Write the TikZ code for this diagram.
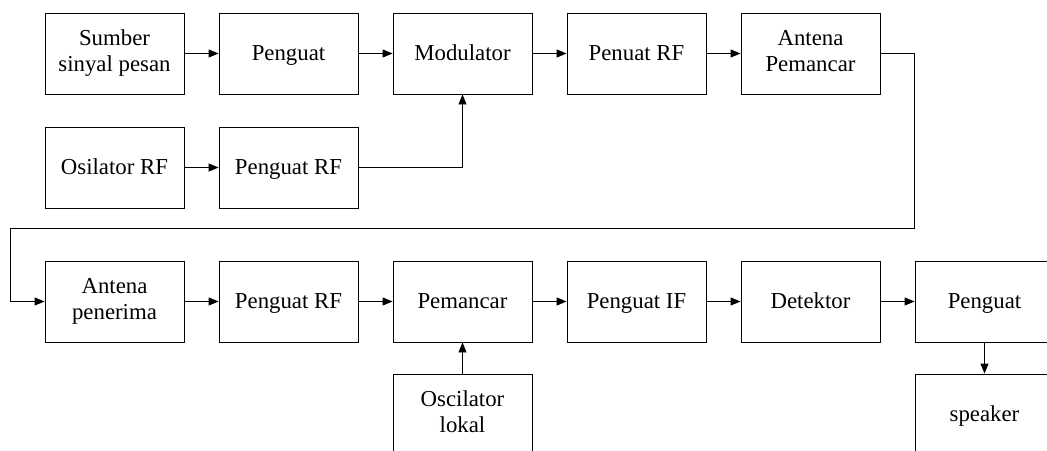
\documentclass[tikz,border=0pt]{standalone}
\usepackage{fontspec}
\setmainfont{Liberation Serif}
\usetikzlibrary{arrows.meta, calc}

\newcommand{\blkstrut}{\rule[-5.8pt]{0pt}{26pt}}

\tikzset{
    block/.style={draw, line width=0.9pt, minimum width=139pt, minimum height=81pt,
        align=center, inner sep=2pt, font=\fontsize{22.8}{26}\selectfont,
        execute at begin node=\blkstrut, execute at end node=\blkstrut},
    arr/.style={line width=0.9pt, -{Triangle[length=10pt, width=8pt]}},
    link/.style={line width=0.9pt}
}

\begin{document}
\begin{tikzpicture}[x=1pt, y=-1pt]
    \useasboundingbox (0,0) rectangle (1047,450);
    \clip (0,0) rectangle (1047,450);

    % pemancar
    \node[block] (src)   at (114.5,53.5) {Sumber\\sinyal pesan};
    \node[block] (amp1)  at (288.5,53.5) {Penguat};
    \node[block] (mod)   at (462.5,53.5) {Modulator};
    \node[block] (rfout) at (636.5,53.5) {Penuat RF};
    \node[block] (antTx) at (810.5,53.5) {Antena\\Pemancar};
    \node[block] (osc)   at (114.5,167.5) {Osilator RF};
    \node[block] (rfamp1) at (288.5,167.5) {Penguat RF};

    % penerima
    \node[block] (antRx) at (114.5,301.5) {Antena\\penerima};
    \node[block] (rfamp2) at (288.5,301.5) {Penguat RF};
    \node[block] (mix)   at (462.5,301.5) {Pemancar};
    \node[block] (ifamp) at (636.5,301.5) {Penguat IF};
    \node[block] (det)   at (810.5,301.5) {Detektor};
    \node[block] (amp2)  at (984.5,301.5) {Penguat};
    \node[block] (lo)    at (462.5,414.5) {Oscilator\\lokal};
    \node[block] (spk)   at (984.5,414.5) {speaker};

    \draw[arr] (src) -- (amp1);
    \draw[arr] (amp1) -- (mod);
    \draw[arr] (mod) -- (rfout);
    \draw[arr] (rfout) -- (antTx);
    \draw[arr] (osc) -- (rfamp1);
    \draw[arr] (rfamp1.east) -| (mod.south);

    \coordinate (c1) at (914,53.5);
    \coordinate (c2) at (914,228);
    \coordinate (c3) at (10,228);
    \coordinate (c4) at (10,301.5);
    \draw[link] (antTx.east) -- (c1) -- (c2) -- (c3) -- (c4);
    \draw[arr] (c4) -- (antRx.west);

    \draw[arr] (antRx) -- (rfamp2);
    \draw[arr] (rfamp2) -- (mix);
    \draw[arr] (mix) -- (ifamp);
    \draw[arr] (ifamp) -- (det);
    \draw[arr] (det) -- (amp2);
    \draw[arr] (lo) -- (mix);
    \draw[arr] (amp2) -- (spk);
\end{tikzpicture}
\end{document}
